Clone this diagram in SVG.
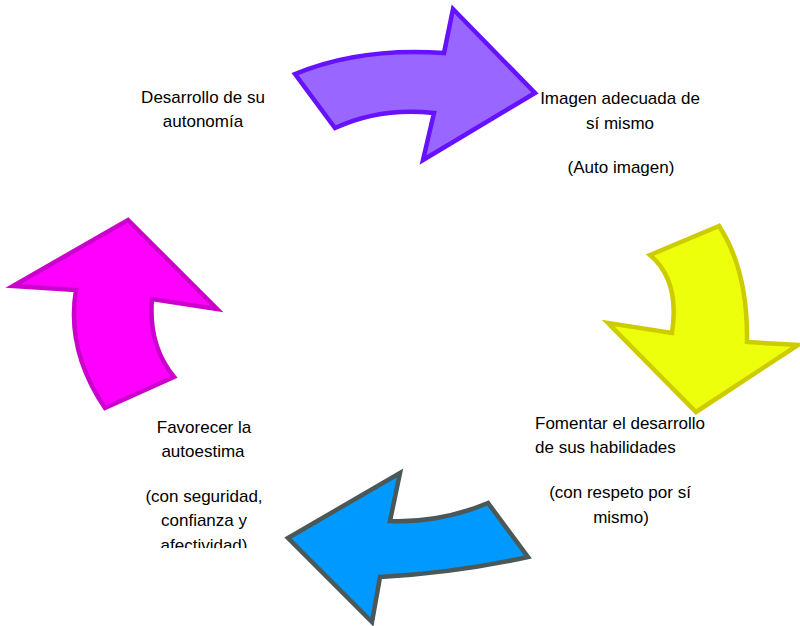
<svg xmlns="http://www.w3.org/2000/svg" width="800" height="626" viewBox="0 0 800 626">
<style>
.t{font-family:"Liberation Sans",Arial,sans-serif;font-size:17px;fill:#000;}
.c{text-anchor:middle;}
.arrow{stroke-width:4.5;stroke-linejoin:miter;stroke-miterlimit:10;}
</style>
<defs>
<clipPath id="clipFav"><rect x="0" y="400" width="300" height="148"/></clipPath>
</defs>
<rect width="800" height="626" fill="#fff"/>
<g id="connectors">
<path id="arrow-purple" class="arrow" fill="#9966FF" stroke="#6611FF" d="M295,74 Q360,47 444,53 L453,9 L535,93 L423,160 L434,113 Q380,107 335,128 Z"/>
<path id="arrow-yellow" class="arrow" fill="#EEFF0C" stroke="#CCCC00" d="M650,255 L719,226 Q748,270 747,342 L798,345 L696,412 L608,323 L672,333 Q680,280 650,255 Z"/>
<path id="arrow-blue" class="arrow" fill="#0099FF" stroke="#4A5858" d="M400,473 L390,521 Q440,523 488,503 L528,557 Q455,573 380,577 L372,622 L288,538 Z"/>
<path id="arrow-magenta" class="arrow" fill="#FF00FF" stroke="#CC00CC" d="M128,220 L217,309 L152,299 Q148,345 174,377 L105,408 Q66,350 76,290 L13,286 Z"/>
</g>
<g id="node-autonomia">
<text class="t c" x="203" y="103">Desarrollo de su</text>
<text class="t c" x="203" y="127">autonomía</text>
</g>
<g id="node-imagen">
<text class="t c" x="620" y="104">Imagen adecuada de</text>
<text class="t c" x="620" y="129">sí mismo</text>
<text class="t c" x="621" y="173">(Auto imagen)</text>
</g>
<g id="node-fomentar">
<text class="t" x="535" y="429">Fomentar el desarrollo</text>
<text class="t" x="535" y="453">de sus habilidades</text>
<text class="t c" x="620" y="498">(con respeto por sí</text>
<text class="t c" x="621" y="523">mismo)</text>
</g>
<g id="node-favorecer" clip-path="url(#clipFav)">
<text class="t c" x="204" y="433">Favorecer la</text>
<text class="t c" x="203" y="457">autoestima</text>
<text class="t c" x="204" y="502">(con seguridad,</text>
<text class="t c" x="204" y="526">confianza y</text>
<text class="t c" x="204" y="551">afectividad)</text>
</g>
</svg>
